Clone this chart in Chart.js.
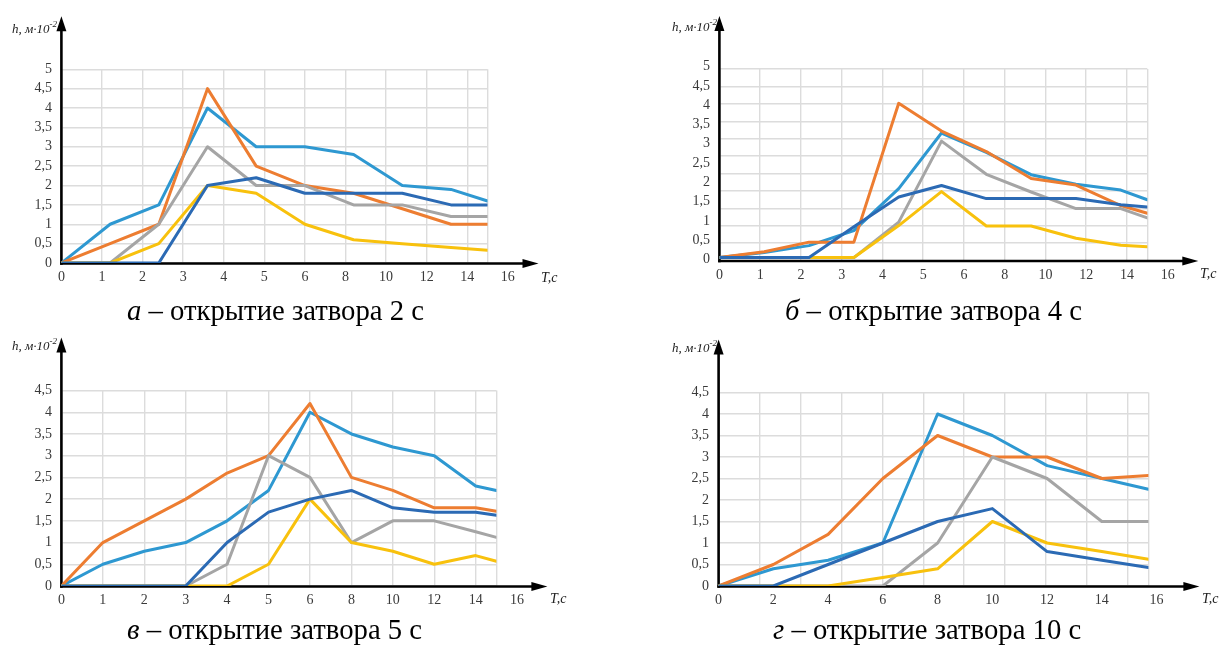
<!DOCTYPE html>
<html>
<head>
<meta charset="utf-8">
<script src="https://cdn.jsdelivr.net/npm/chart.js@4.4.1/dist/chart.umd.min.js"></script>
<style>
html,body{margin:0;padding:0;background:#fff;}
body{width:1227px;height:646px;position:relative;overflow:hidden;font-family:'Liberation Serif','Times New Roman',serif;color:#000;}
canvas{position:absolute;}
.cap{position:absolute;font-size:28.7px;line-height:28.7px;white-space:nowrap;}
.ytitle{position:absolute;font-style:italic;font-size:13px;line-height:13px;white-space:nowrap;color:#222;}
.ytitle sup{font-size:9px;vertical-align:baseline;position:relative;top:-6px;}
.xtitle{position:absolute;font-style:italic;font-size:14px;line-height:14px;white-space:nowrap;color:#222;}
</style>
</head>
<body>
<canvas id="ca" width="614" height="300" style="left:0;top:0"></canvas>
<canvas id="cb" width="613" height="300" style="left:614px;top:0"></canvas>
<canvas id="cc" width="614" height="300" style="left:0;top:320px"></canvas>
<canvas id="cd" width="613" height="300" style="left:614px;top:320px"></canvas>

<div class="ytitle" style="left:12px;top:22px">h, м·10<sup>-2</sup></div>
<div class="ytitle" style="left:672px;top:20px">h, м·10<sup>-2</sup></div>
<div class="ytitle" style="left:12px;top:339px">h, м·10<sup>-2</sup></div>
<div class="ytitle" style="left:672px;top:341px">h, м·10<sup>-2</sup></div>

<div class="xtitle" style="left:541px;top:271px">T,c</div>
<div class="xtitle" style="left:1200px;top:267px">T,c</div>
<div class="xtitle" style="left:550px;top:592px">T,c</div>
<div class="xtitle" style="left:1202px;top:592px">T,c</div>

<div class="cap" style="left:127px;top:296px"><i>а</i> – открытие затвора 2 с</div>
<div class="cap" style="left:785px;top:296px"><i>б</i> – открытие затвора 4 с</div>
<div class="cap" style="left:127px;top:615px"><i>в</i> – открытие затвора 5 с</div>
<div class="cap" style="left:773px;top:615px"><i>г</i> – открытие затвора 10 с</div>

<script>
// ---------- DATA ----------
// x tick labels
const xLabelsStretched = ['0','1','2','3','4','5','6','8','10','12','14','16']; // charts а, б, в (0..6 step 1, then step 2)
const xLabelsLinear = ['0','2','4','6','8','10','12','14','16'];                  // chart г
const yLabels5 = ['0','0,5','1','1,5','2','2,5','3','3,5','4','4,5','5'];
const yLabels45 = ['0','0,5','1','1,5','2','2,5','3','3,5','4','4,5'];

// chart а – opening 2 s
const aT        = [0, 1.2, 2.4, 3.6, 4.8, 6, 8.4, 10.8, 13.2, 15];
const aLightBlue= [0, 1.0, 1.5, 4.0, 3.0, 3.0, 2.8, 2.0, 1.9, 1.6];
const aOrange   = [0, 0.5, 1.0, 4.5, 2.5, 2.0, 1.8, 1.4, 1.0, 1.0];
const aGray     = [0, 0,   1.0, 3.0, 2.0, 2.0, 1.5, 1.5, 1.2, 1.2];
const aYellow   = [0, 0,   0.5, 2.0, 1.8, 1.0, 0.6, 0.5, 0.4, 0.33];
const aDarkBlue = [0, 0,   0,   2.0, 2.2, 1.8, 1.8, 1.8, 1.5, 1.5];

// chart б – opening 4 s
const bT        = [0, 1.1, 2.2, 3.3, 4.4, 5.45, 7.1, 9.3, 11.5, 13.7, 15];
const bLightBlue= [0.05, 0.18, 0.36, 0.75, 1.84, 3.28, 2.78, 2.2, 1.95, 1.8, 1.55];
const bOrange   = [0.05, 0.2, 0.45, 0.45, 4.05, 3.33, 2.8, 2.1, 1.93, 1.4, 1.2];
const bGray     = [0.05, 0.05, 0.05, 0.05, 0.97, 3.07, 2.21, 1.75, 1.32, 1.32, 1.08];
const bYellow   = [0.05, 0.05, 0.05, 0.05, 0.88, 1.76, 0.87, 0.87, 0.55, 0.37, 0.33];
const bDarkBlue = [0.05, 0.05, 0.05, 0.85, 1.62, 1.92, 1.58, 1.58, 1.58, 1.42, 1.36];

// chart в – opening 5 s
const cT        = [0, 1, 2, 3, 4, 5, 6, 8, 10, 12, 14, 15];
const cLightBlue= [0, 0.5, 0.8, 1.0, 1.5, 2.2, 4.0, 3.5, 3.2, 3.0, 2.3, 2.2];
const cOrange   = [0, 1.0, 1.5, 2.0, 2.6, 3.0, 4.2, 2.5, 2.2, 1.8, 1.8, 1.72];
const cGray     = [0, 0, 0, 0, 0.5, 3.0, 2.5, 1.0, 1.5, 1.5, 1.25, 1.12];
const cYellow   = [0, 0, 0, 0, 0, 0.5, 2.0, 1.0, 0.8, 0.5, 0.7, 0.57];
const cDarkBlue = [0, 0, 0, 0, 1.0, 1.7, 2.0, 2.2, 1.8, 1.7, 1.7, 1.63];

// chart г – opening 10 s
const dT        = [0, 2, 4, 6, 8, 10, 12, 14, 15.7];
const dLightBlue= [0, 0.4, 0.6, 1.0, 4.0, 3.5, 2.8, 2.5, 2.25];
const dOrange   = [0, 0.5, 1.2, 2.5, 3.5, 3.0, 3.0, 2.5, 2.57];
const dGray     = [0, 0, 0, 0, 1.0, 3.0, 2.5, 1.5, 1.5];
const dYellow   = [0, 0, 0, 0.2, 0.4, 1.5, 1.0, 0.8, 0.62];
const dDarkBlue = [0, 0, 0.5, 1.0, 1.5, 1.8, 0.8, 0.6, 0.43];

// ---------- STYLE ----------
const colors = {lightBlue:'#2E98D1', orange:'#ED7D31', gray:'#A5A5A5', yellow:'#F8C10D', darkBlue:'#2B6AB4'};
const drawOrder = {lightBlue:5, orange:4, gray:3, yellow:2, darkBlue:1};
const gridColor = '#dcdcdc';
const tickFont = {family:"'Liberation Serif', serif", size:14};
const tickColor = '#3a3a3a';

// stretched axis: 0..6 one unit per second, after 6 one unit per 2 seconds
const stretchPos = T => (T <= 6 ? T : 6 + (T - 6) / 2);
const linearPos = T => T;

const axisArrows = {
  id: 'axisArrows',
  beforeDatasetsDraw(chart) {
    const {ctx, chartArea: a} = chart;
    const ox = a.left, oy = a.bottom + 0.5;
    const tipY = a.top - 53, tipX = a.right + 51;
    ctx.save();
    ctx.strokeStyle = '#000';
    ctx.fillStyle = '#000';
    ctx.lineWidth = 2.6;
    ctx.beginPath(); ctx.moveTo(ox, oy + 1.3); ctx.lineTo(ox, tipY + 10); ctx.stroke();
    ctx.beginPath(); ctx.moveTo(ox - 1.3, oy); ctx.lineTo(tipX - 10, oy); ctx.stroke();
    ctx.beginPath(); ctx.moveTo(ox, tipY); ctx.lineTo(ox - 5, tipY + 15); ctx.lineTo(ox + 5, tipY + 15); ctx.closePath(); ctx.fill();
    ctx.beginPath(); ctx.moveTo(tipX, oy); ctx.lineTo(tipX - 16, oy - 4.5); ctx.lineTo(tipX - 16, oy + 4.5); ctx.closePath(); ctx.fill();
    ctx.restore();
  }
};

function buildChart(id, geo, d) {
  const names = ['lightBlue','orange','gray','yellow','darkBlue'];
  const datasets = names.map((n, k) => ({
    label: 'Ряд ' + (k + 1),
    data: d.T.map((t, i) => ({x: d.pos(t), y: d.series[n][i]})),
    borderColor: colors[n],
    backgroundColor: colors[n],
    borderWidth: 3,
    pointRadius: 0,
    tension: 0,
    fill: false,
    borderCapStyle: 'round',
    borderJoinStyle: 'round',
    order: drawOrder[n],
    xAxisID: 'x',
    yAxisID: 'y'
  }));
  const yw = 40, xh = 30;
  const padding = {
    left: geo.areaLeft - yw,
    right: geo.width - geo.areaRight,
    top: geo.areaTop,
    bottom: geo.height - geo.areaBottom - xh
  };
  const zeroPad = s => { s.paddingLeft = 0; s.paddingRight = 0; s.paddingTop = 0; s.paddingBottom = 0; };
  new Chart(document.getElementById(id), {
    type: 'line',
    data: {datasets},
    plugins: [axisArrows],
    options: {
      responsive: false,
      animation: false,
      devicePixelRatio: 1,
      layout: {padding},
      plugins: {legend: {display: false}, tooltip: {enabled: false}, title: {display: false}},
      scales: {
        x: {
          type: 'linear', position: 'bottom', min: 0, max: d.xMax,
          grid: {display: false, drawTicks: false}, border: {display: false},
          afterBuildTicks: s => { s.ticks = d.xLabels.map((_, i) => ({value: d.xTickStep * i})); },
          ticks: {autoSkip: false, maxRotation: 0, padding: 6, font: tickFont, color: tickColor,
                  callback: (v, i) => d.xLabels[i]},
          afterFit: s => { s.height = xh; zeroPad(s); }
        },
        xg: {
          type: 'linear', position: 'bottom', min: 0, max: 10.5,
          grid: {color: gridColor, lineWidth: 1.4, drawTicks: false}, border: {display: false},
          afterBuildTicks: s => { const t = []; for (let v = 0; v <= 10; v++) t.push({value: v}); t.push({value: 10.5}); s.ticks = t; },
          ticks: {display: false},
          afterFit: s => { s.height = 0; zeroPad(s); }
        },
        y: {
          type: 'linear', position: 'left', min: d.yMin, max: d.yMax,
          grid: {display: false, drawTicks: false}, border: {display: false},
          afterBuildTicks: s => { s.ticks = d.yLabels.map((_, i) => ({value: 0.5 * i})); },
          ticks: {autoSkip: false, padding: 9.5, font: tickFont, color: tickColor,
                  callback: (v, i) => d.yLabels[i]},
          afterFit: s => { s.width = yw; zeroPad(s); }
        },
        yg: {
          type: 'linear', position: 'left', min: 0, max: d.gridYMax,
          grid: {color: gridColor, lineWidth: 1.4, drawTicks: false}, border: {display: false},
          afterBuildTicks: s => { const t = []; for (let v = 0; v <= d.gridYMax + 1e-9; v += 0.5) t.push({value: v}); s.ticks = t; },
          ticks: {display: false},
          afterFit: s => { s.width = 0; zeroPad(s); }
        }
      }
    }
  });
}

buildChart('ca', {width:614, height:300, areaLeft:61.4, areaRight:487.5, areaTop:69.3, areaBottom:263}, {
  T: aT, pos: stretchPos,
  series: {lightBlue:aLightBlue, orange:aOrange, gray:aGray, yellow:aYellow, darkBlue:aDarkBlue},
  xLabels: xLabelsStretched, xTickStep: 1, xMax: 10.5,
  yLabels: yLabels5, yMin: 0, yMax: 5, gridYMax: 5
});
buildChart('cb', {width:613, height:300, areaLeft:105.4, areaRight:533.3, areaTop:69, areaBottom:260.5}, {
  T: bT, pos: stretchPos,
  series: {lightBlue:bLightBlue, orange:bOrange, gray:bGray, yellow:bYellow, darkBlue:bDarkBlue},
  xLabels: xLabelsStretched, xTickStep: 1, xMax: 10.5,
  yLabels: yLabels5, yMin: -0.026, yMax: 4.94, gridYMax: 5.5
});
buildChart('cc', {width:614, height:300, areaLeft:61.4, areaRight:496.4, areaTop:70.5, areaBottom:266}, {
  T: cT, pos: stretchPos,
  series: {lightBlue:cLightBlue, orange:cOrange, gray:cGray, yellow:cYellow, darkBlue:cDarkBlue},
  xLabels: xLabelsStretched, xTickStep: 1, xMax: 10.5,
  yLabels: yLabels45, yMin: 0, yMax: 4.5, gridYMax: 4.5
});
buildChart('cd', {width:613, height:300, areaLeft:104.6, areaRight:534.4, areaTop:72.5, areaBottom:266}, {
  T: dT, pos: linearPos,
  series: {lightBlue:dLightBlue, orange:dOrange, gray:dGray, yellow:dYellow, darkBlue:dDarkBlue},
  xLabels: xLabelsLinear, xTickStep: 2, xMax: 15.7,
  yLabels: yLabels45, yMin: 0, yMax: 4.5, gridYMax: 4.5
});
</script>
</body>
</html>
